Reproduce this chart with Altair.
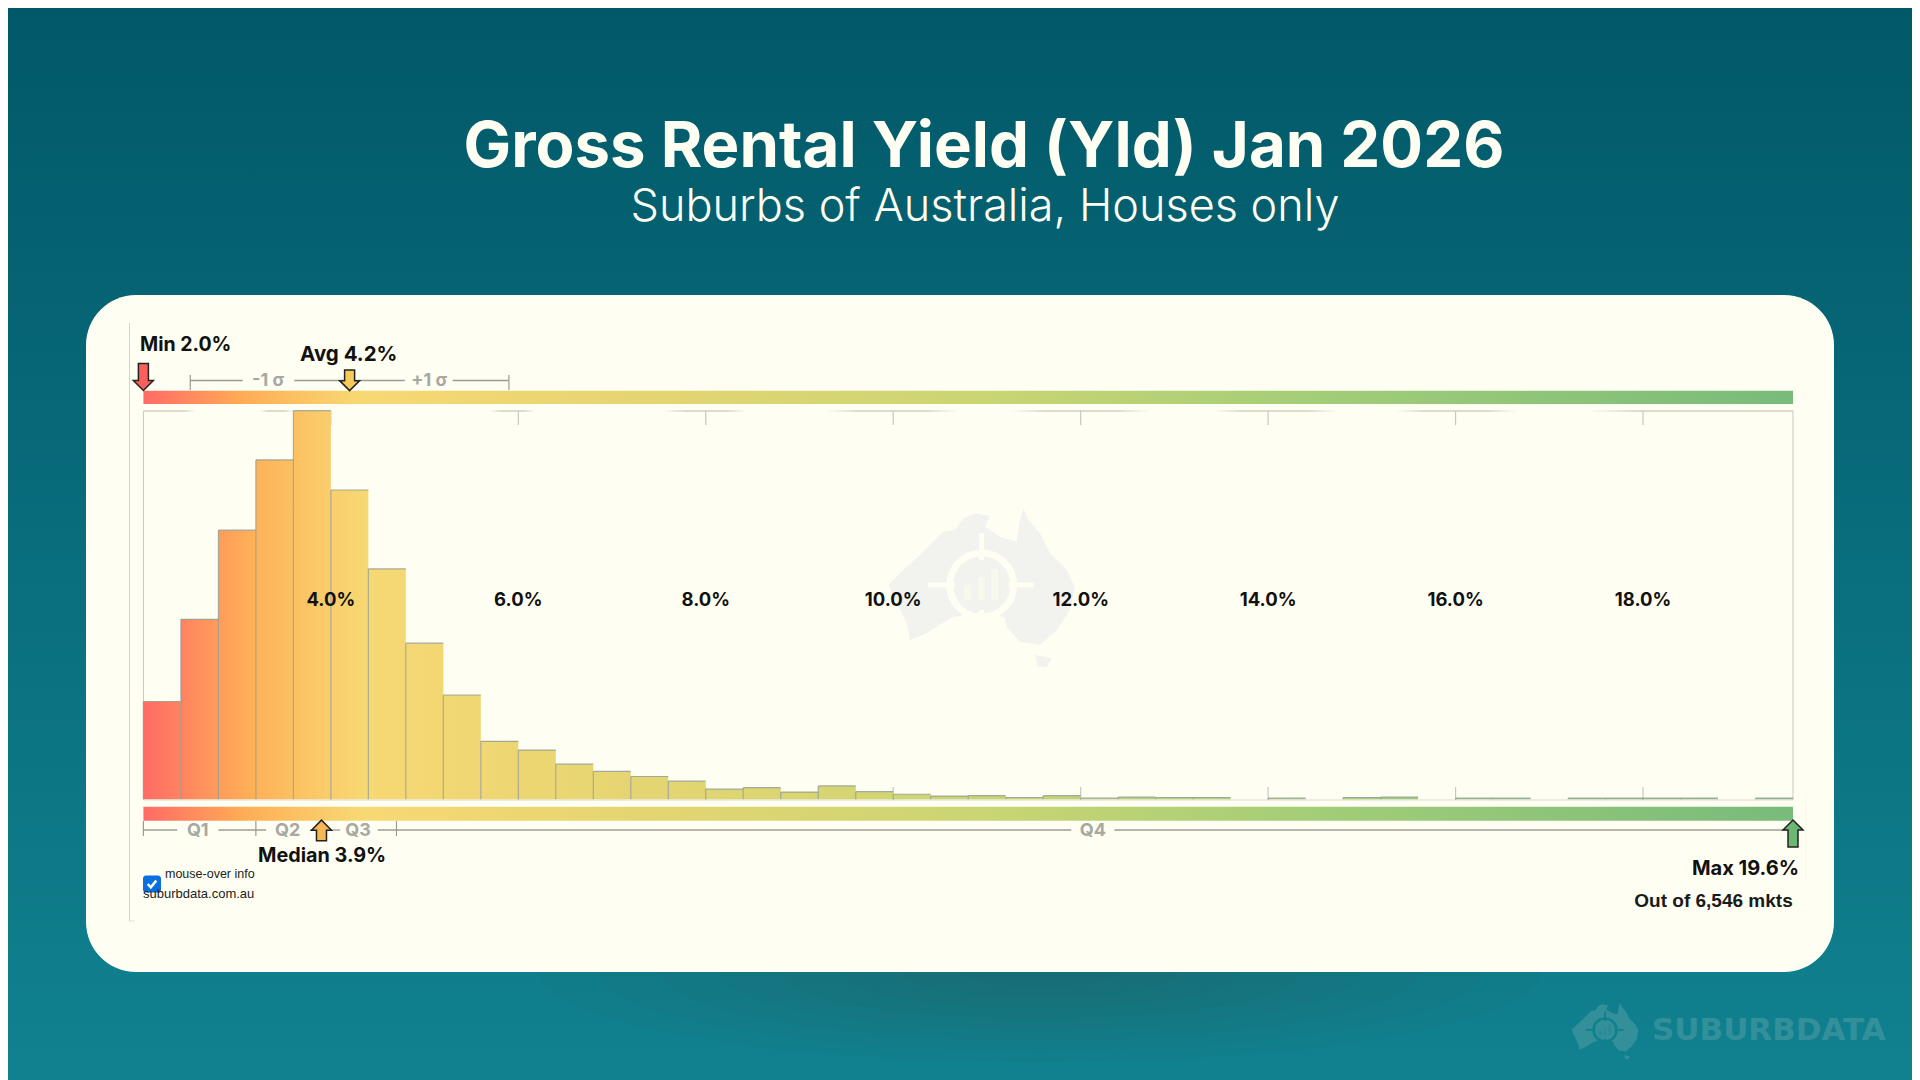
import altair as alt

# ---------- data ----------
BIN_START = 2.0
BIN_WIDTH = 0.4
counts = [270, 497, 743, 937, 1073, 854, 636, 431, 288, 160, 136, 97, 77, 63, 50, 28, 32, 20, 37, 21, 14, 9,
          10, 5, 10, 3, 6, 5, 5, 0, 3, 0, 5, 6, 0, 3, 3, 0, 3, 3, 3, 3, 0, 3]
tick_values = [4, 6, 8, 10, 12, 14, 16, 18]
stat_min, stat_avg, stat_median, stat_max = 2.0, 4.2, 3.9, 19.6
sigma_lines = [(2.5, 3.06), (3.61, 4.79), (5.3, 5.9)]
sigma_ends = [2.5, 5.9]
sigma_labels = [("-1 σ", 3.33), ("+1 σ", 5.05)]
q_lines = [(2.0, 2.36), (2.8, 3.31), (3.78, 4.1), (4.5, 11.9), (12.36, 19.6)]
q_ends = [2.0, 3.2, 4.7]
q_labels = [("Q1", 2.58), ("Q2", 3.54), ("Q3", 4.29), ("Q4", 12.13)]
top_segments = [(2.0, 2.56), (3.24, 3.6), (5.7, 6.18), (7.55, 8.44), (9.28, 10.7),
                (11.25, 12.75), (13.4, 14.75), (15.35, 16.66), (17.4, 19.6)]
shadow_half_widths = [500, 440, 380, 320, 260, 200, 140, 80]

# colour ramp
ramp_pos = [2.0, 3.1, 4.3, 7.4, 11.1, 14.3, 19.6]
ramp_col = ["#FF6B66", "#FFAE55", "#F8D873", "#E4D572", "#C9D573", "#A5CE77", "#78BB7B"]


def ramp(v):
    for i in range(len(ramp_pos) - 1):
        if v <= ramp_pos[i + 1]:
            t = (v - ramp_pos[i]) / (ramp_pos[i + 1] - ramp_pos[i])
            a = [int(ramp_col[i][j:j + 2], 16) for j in (1, 3, 5)]
            b = [int(ramp_col[i + 1][j:j + 2], 16) for j in (1, 3, 5)]
            return "#%02x%02x%02x" % tuple(round(p + (q - p) * t) for p, q in zip(a, b))
    return ramp_col[-1]


def hgrad(c1, c2):
    return {"gradient": "linear", "x1": 0, "y1": 0, "x2": 1, "y2": 0,
            "stops": [{"offset": 0, "color": c1}, {"offset": 1, "color": c2}]}


def fade(first, last):
    c, o = "#CFCFC2", "rgba(207,207,194,0)"
    return {"gradient": "linear", "x1": 0, "y1": 0, "x2": 1, "y2": 0,
            "stops": [{"offset": 0, "color": c if first else o}, {"offset": 0.25, "color": c},
                      {"offset": 0.75, "color": c}, {"offset": 1, "color": c if last else o}]}


bars = []
for i, c in enumerate(counts):
    a = round(BIN_START + i * BIN_WIDTH, 1)
    b = round(a + BIN_WIDTH, 1)
    bars.append({"lo": a, "hi": b, "count": c, "zero": 0, "grad": hgrad(ramp(a), ramp(b))})
nonzero = [d for d in bars if d["count"] > 0]

# ---------- geometry helpers ----------
OX, OY = 8, 8  # page margin
CARD = "#FEFFF2"
xs = alt.Scale(domain=[2.0, 19.6], range=[143.4 - OX, 1793 - OX], nice=False, zero=False)
ys = alt.Scale(domain=[0, max(counts)], range=[799.3 - OY, 410.7 - OY], nice=False, zero=False)
X = lambda f: alt.X(f, type="quantitative", scale=xs, axis=None)
Y = lambda f: alt.Y(f, type="quantitative", scale=ys, axis=None)
one = alt.Data(values=[{"a": 1}])
layers = []


def px(v):
    return alt.value(v - OX)


def py(v):
    return alt.value(v - OY)


def rect(x1, x2, y1, y2, fill, **kw):
    layers.append(alt.Chart(one).mark_rect(fill=fill, **kw).encode(x=px(x1), x2=px(x2), y=py(y1), y2=py(y2)))


def hrule(x1, x2, y, color, w=1.0):
    layers.append(alt.Chart(one).mark_rule(color=color, strokeWidth=w).encode(x=px(x1), x2=px(x2), y=py(y)))


def vrule(x, y1, y2, color, w=1.0):
    layers.append(alt.Chart(one).mark_rule(color=color, strokeWidth=w).encode(x=px(x), y=py(y1), y2=py(y2)))


def text(s, x, y, size, color="#111111", font="Liberation Sans", weight="normal", align="left"):
    layers.append(alt.Chart(alt.Data(values=[{"t": s}])).mark_text(
        font=font, fontSize=size, fontWeight=weight, align=align, baseline="alphabetic", color=color
    ).encode(text="t:N", x=px(x), y=py(y)))


def symbol(shape, x, y, size, fill=None, stroke=None, sw=1.0):
    kw = {"shape": shape, "size": size, "opacity": 1, "strokeWidth": sw}
    kw["filled"] = fill is not None
    if fill is not None:
        kw["fill"] = fill
    if stroke is not None:
        kw["stroke"] = stroke
    layers.append(alt.Chart(one).mark_point(**kw).encode(x=px(x), y=py(y)))


def stat_arrow(value, up, cy, height, fill):
    sh = 1 - 2 * 10.0 / height
    s = -1 if up else 1
    pts = [(-5, -1), (5, -1), (5, sh), (10, sh), (0, 1), (-10, sh), (-5, sh)]
    path = "M" + " L".join(f"{a / (height / 2):.3f},{b * s:.3f}" for a, b in pts) + " Z"
    layers.append(alt.Chart(alt.Data(values=[{"v": value}])).mark_point(
        shape=path, size=height ** 2, filled=True, fill=fill, stroke="#222222", strokeWidth=1.5, opacity=1
    ).encode(x=X("v"), y=py(cy)))


# Australia outline as seen around the watermark centre
oz_main = [(85, 285), (130, 240), (190, 185), (250, 125), (285, 120), (310, 85), (345, 70), (390, 78), (375, 110),
           (420, 140), (470, 155), (480, 90), (490, 55), (505, 90), (540, 130), (570, 190), (620, 240), (645, 290),
           (630, 360), (590, 420), (540, 465), (480, 455), (440, 410), (435, 385), (400, 370), (330, 370), (270, 385),
           (200, 430), (150, 450), (140, 400), (110, 340)]
oz_tas = [(525, 495), (575, 505), (560, 530), (535, 530)]


def oz_path():
    def ring(pts):
        return "M" + " L".join(f"{(a - 365) / 300:.3f},{(b - 285) / 300:.3f}" for a, b in pts) + " Z"
    return ring(oz_main) + " " + ring(oz_tas)


def logo(cx, cy, k, body, cut, bar):
    R = 100 * k
    symbol(oz_path(), cx, cy, (2 * R) ** 2, fill=body)
    symbol("circle", cx, cy, (2 * 32 * k) ** 2, stroke=cut, sw=7 * k)
    hrule(cx - 54 * k, cx - 27 * k, cy, cut, 5 * k)
    hrule(cx + 27 * k, cx + 52 * k, cy, cut, 5 * k)
    vrule(cx, cy - 52 * k, cy - 25 * k, cut, 5 * k)
    vrule(cx, cy + 25 * k, cy + 35 * k, cut, 5 * k)
    vrule(cx - 14 * k, cy, cy + 15 * k, bar, 7 * k)
    vrule(cx, cy - 8 * k, cy + 15 * k, bar, 7 * k)
    vrule(cx + 13 * k, cy - 16 * k, cy + 15 * k, bar, 7 * k)


# ---------- background ----------
layers.append(alt.Chart(one).mark_rect(fill=alt.Gradient(
    gradient="linear", x1=0, y1=0, x2=0, y2=1,
    stops=[alt.GradientStop(offset=0, color="#015868"), alt.GradientStop(offset=1, color="#118290")]
)).encode(x=px(0), x2=px(1920), y=py(0), y2=py(1090)))
# soft shadow under the card: nested faint ellipses
for w in shadow_half_widths:
    ry = 0.18
    layers.append(alt.Chart(one).mark_point(
        shape=f"M-1,0 A1,{ry} 0 1,0 1,0 A1,{ry} 0 1,0 -1,0 Z",
        size=(2 * w) ** 2, filled=True, fill="#2D5555", opacity=0.04, strokeWidth=0
    ).encode(x=px(1040), y=py(972)))
rect(86, 1834, 295, 972, CARD, cornerRadius=50)

# titles
text("Gross Rental Yield (Yld) Jan 2026", 984, 166.5, 63.5, color=CARD, font="Inter", weight="bold", align="center")
text("Suburbs of Australia, Houses only", 985, 221, 45, color=CARD, font="Inter", weight=300, align="center")

# ---------- chart furniture ----------
logo(981.7, 585, 1.0, "#F2F2EE", CARD, "#F7F8EE")
vrule(129.5, 323, 921, "#D4D4CA")
hrule(129.5, 134, 921, "#DDDDD2")
vrule(1806, 800, 880, "#F7F8EA")
vrule(143.4, 411, 800, "#C8C8C0")
vrule(1793, 411, 800, "#C8C8C0", )
hrule(143.4, 1793, 800, "#E6E6D8", 1.5)

seg = [{"a": a, "b": b, "grad": fade(i == 0, i == len(top_segments) - 1)} for i, (a, b) in enumerate(top_segments)]
layers.append(alt.Chart(alt.Data(values=seg)).mark_rect().encode(
    x=X("a"), x2=alt.X2("b"), y=py(410.2), y2=py(411.8), fill=alt.Fill("grad:N", scale=None)))
ticks = alt.Data(values=[{"v": v} for v in tick_values])
layers.append(alt.Chart(ticks).mark_rule(color="#C8C8C0", strokeWidth=1.2).encode(x=X("v"), y=py(411), y2=py(425)))
layers.append(alt.Chart(ticks).mark_rule(color="#C8C8C0", strokeWidth=1.2).encode(x=X("v"), y=py(787), y2=py(800)))

# ---------- histogram ----------
layers.append(alt.Chart(alt.Data(values=nonzero)).mark_rect().encode(
    x=X("lo"), x2=alt.X2("hi"), y=Y("count"), y2=alt.Y2("zero"),
    fill=alt.Fill("grad:N", scale=None)))
layers.append(alt.Chart(alt.Data(values=nonzero)).mark_rule(color="#8F9A90", strokeWidth=1.1, opacity=0.8).encode(
    x=X("lo"), y=Y("count"), y2=alt.Y2("zero")))
layers.append(alt.Chart(alt.Data(values=nonzero)).mark_rule(color="#8F9A90", strokeWidth=1.2, opacity=0.8).encode(
    x=X("lo"), x2=alt.X2("hi"), y=Y("count")))

# gradient strips
strip_fill = alt.Gradient(
    gradient="linear", x1=0, y1=0, x2=1, y2=0,
    stops=[alt.GradientStop(offset=(p - 2.0) / 17.6, color=c) for p, c in zip(ramp_pos, ramp_col)])
strip = alt.Data(values=[{"a": stat_min, "b": stat_max}])
for y1, y2 in [(390.7, 404), (806.7, 820.7)]:
    layers.append(alt.Chart(strip).mark_rect(fill=strip_fill).encode(x=X("a"), x2=alt.X2("b"), y=py(y1), y2=py(y2)))

# brackets
GRAY = "#9C9C96"
LBL = "#A8A8A2"
for rows, y, ends, y1, y2, labels, by in [
    (sigma_lines, 380.5, sigma_ends, 375, 390, sigma_labels, 385.5),
    (q_lines, 830, q_ends, 821, 836, q_labels, 835.5),
]:
    layers.append(alt.Chart(alt.Data(values=[{"a": a, "b": b} for a, b in rows])).mark_rule(
        color=GRAY, strokeWidth=1.3).encode(x=X("a"), x2=alt.X2("b"), y=py(y)))
    layers.append(alt.Chart(alt.Data(values=[{"v": v} for v in ends])).mark_rule(
        color=GRAY, strokeWidth=1.2).encode(x=X("v"), y=py(y1), y2=py(y2)))
    layers.append(alt.Chart(alt.Data(values=[{"t": t, "v": v} for t, v in labels])).mark_text(
        font="Inter", fontSize=18, fontWeight="bold", color=LBL, baseline="alphabetic", align="center"
    ).encode(x=X("v"), y=py(by), text="t:N"))

# tick labels
layers.append(alt.Chart(alt.Data(values=[{"v": v, "t": f"{v:.1f}%"} for v in tick_values])).mark_text(
    font="Inter", fontSize=18.5, fontWeight="bold", color="#111111", baseline="alphabetic", align="center"
).encode(x=X("v"), y=py(606.3), text="t:N"))

# stat arrows
stat_arrow(stat_min, False, 377, 27, "#F9605C")
stat_arrow(stat_avg, False, 380.3, 20.7, "#F7CB5A")
stat_arrow(stat_median, True, 830.5, 20.7, "#F7B755")
stat_arrow(stat_max, True, 833.5, 27, "#6CB873")

# annotations
text("Min 2.0%", 140, 351, 19.5, font="Inter", weight="bold")
text("Avg 4.2%", 300, 361, 20.5, font="Inter", weight="bold")
text("Median 3.9%", 258, 861.5, 19.8, font="Inter", weight="bold")
text("Max 19.6%", 1799, 875, 20, font="Inter", weight="bold", align="right")
text("Out of 6,546 mkts", 1792.7, 907, 19, color="#1A1A1A", weight="bold", align="right")

# checkbox
rect(143, 161, 875.5, 892.5, "#0B6FE0", cornerRadius=3)
symbol("M-0.7,0 L-0.2,0.55 L0.7,-0.55", 152, 884, 150, stroke="#FFFFFF", sw=2.5)
text("mouse-over info", 165, 878, 12.5, color="#222222")
text("suburbdata.com.au", 143, 898, 13, color="#222222")

# brand mark, bottom right
logo(1605, 1030, 0.358, "#33909B", "#10808D", "#2A8A96")
text("SUBURBDATA", 1652, 1040, 31, color="#33909B", font="DejaVu Sans", weight="bold")

chart = alt.layer(*layers).properties(
    width=1904, height=1072, padding=0, autosize=alt.AutoSizeParams(type="none"), background=CARD
).configure_view(stroke=None)

chart.save("out.html", embed_options={"renderer": "svg", "actions": False})
